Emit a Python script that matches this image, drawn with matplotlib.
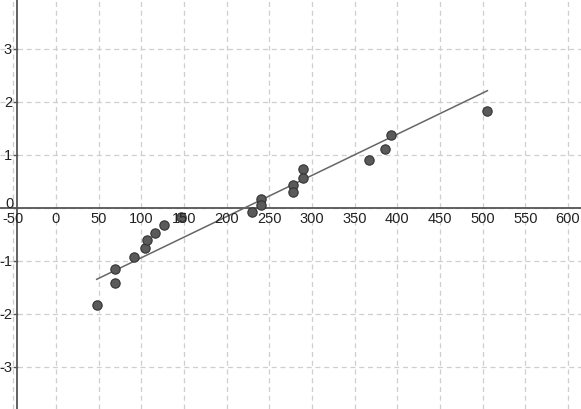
import matplotlib.pyplot as plt
import numpy as np

plt.rcParams['font.family'] = ['Liberation Sans', 'DejaVu Sans']

# data points
xs = [47.7, 69.1, 69.1, 91.4, 104.3, 106.6, 116.0, 126.6, 146.5, 229.3,
      240.2, 240.2, 278.0, 278.0, 289.5, 289.5, 367.2, 385.6, 392.2, 504.7]
ys = [-1.83, -1.41, -1.15, -0.93, -0.75, -0.60, -0.47, -0.32, -0.18, -0.07,
      0.17, 0.05, 0.43, 0.30, 0.73, 0.57, 0.91, 1.11, 1.38, 1.82]

# fitted line end points
fit_x = [47.7, 505.5]
fit_y = [-1.345, 2.21]

x_ticks = list(range(-50, 601, 50))
y_ticks = [-3, -2, -1, 0, 1, 2, 3]

fig = plt.figure(figsize=(5.81, 4.09), dpi=100)
ax = fig.add_axes([0, 0, 1, 1])
ax.set_xlim(-65.6, 615.2)
ax.set_ylim(-3.79, 3.92)
ax.axis('off')

grid_kw = dict(color='#cfcfcf', lw=0.9, ls=(0, (4, 3)), zorder=0)
for gx in x_ticks:
    ax.axvline(gx, **grid_kw)
for gy in y_ticks:
    ax.axhline(gy, **grid_kw)

# axes (y-axis is pinned to the left side)
yaxis_x = -45.3
ax.axhline(0, color='#555555', lw=1.3, zorder=1)
ax.axvline(yaxis_x, color='#555555', lw=1.3, zorder=1)

# labels sit on top of the points, like the original
for gx in x_ticks:
    ax.text(gx, -0.2, str(gx), ha='center', va='center', fontsize=10.5, color='#222222', zorder=6)
for gy in y_ticks:
    if gy == 0:
        ax.text(-54, 0.08, '0', ha='center', va='center', fontsize=10.5, color='#222222')
    else:
        ax.text(-51.5, gy - 0.02, str(gy), ha='right', va='center', fontsize=10.5, color='#222222')
    ax.plot([yaxis_x - 4, yaxis_x], [gy, gy], color='#555555', lw=1, zorder=1)

ax.plot(fit_x, fit_y, color='#666666', lw=1.1, zorder=3)
ax.scatter(xs, ys, s=45, color='#5a5a5a', edgecolors='#333333', linewidths=0.8, zorder=4)

fig.savefig('out.png', dpi=100)
